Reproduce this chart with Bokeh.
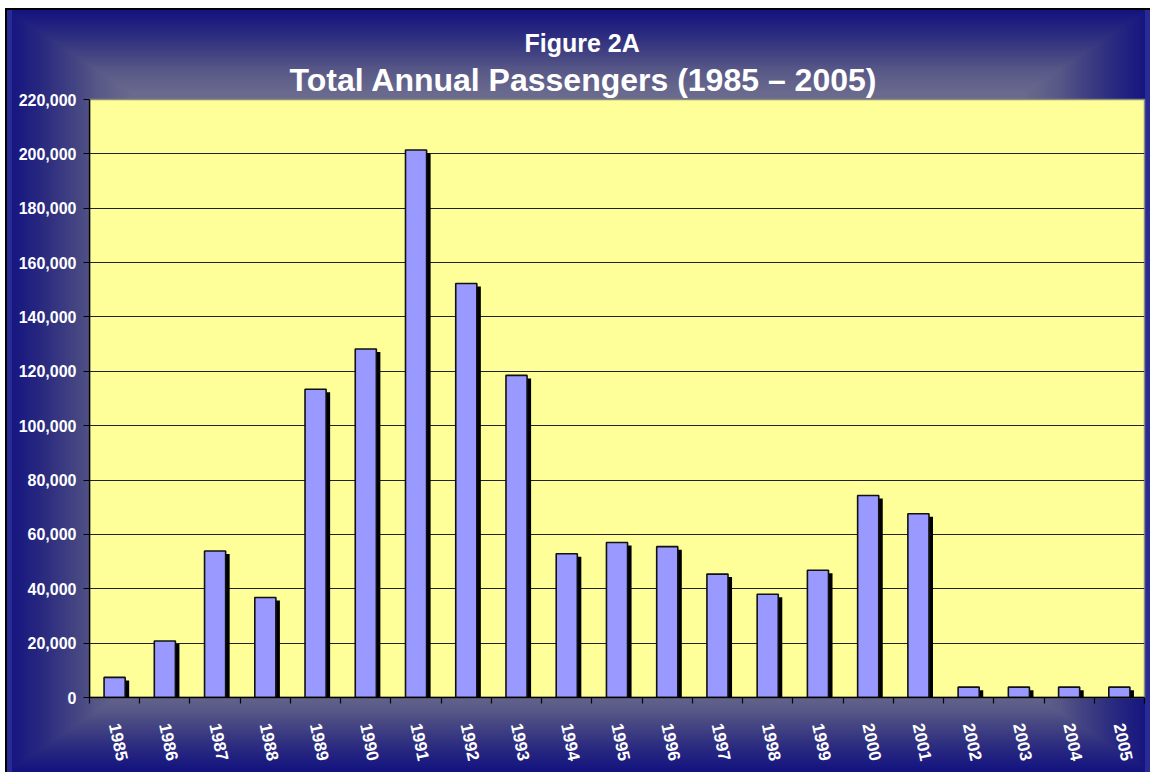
import numpy as np
import zlib, struct, base64
from bokeh.plotting import figure
from bokeh.models import FixedTicker, NumeralTickFormatter, Title, ColumnDataSource
from bokeh.transform import dodge
from bokeh.embed import file_html
from bokeh.resources import INLINE

# ---------------- data ----------------
years = [1985, 1986, 1987, 1988, 1989, 1990, 1991, 1992, 1993, 1994, 1995,
         1996, 1997, 1998, 1999, 2000, 2001, 2002, 2003, 2004, 2005]
passengers = [7400, 20800, 53900, 36800, 113400, 128200, 201400, 152300, 118500,
              52900, 57000, 55500, 45400, 38000, 46800, 74300, 67600,
              3800, 3800, 3800, 3800]
y_ticks = [0, 20000, 40000, 60000, 80000, 100000, 120000, 140000,
           160000, 180000, 200000, 220000]
title_top = "Figure 2A"
title_main = "Total Annual Passengers (1985 \u2013 2005)"

# ---------------- layout ----------------
W, H = 1153, 772
FONT = "Liberation Sans"

# background gradient (Excel style "from center" fill), rendered as PNG
def make_background(w, h):
    X = np.arange(w)[None, :] + 0.0
    Y = np.arange(h)[:, None] + 0.0
    t = np.maximum(np.abs(X - 577.5) / 572.5, np.abs(Y - 390.0) / 382.0)
    t = np.clip(t, 0, 1)
    stops_t = [0.0, 0.78, 0.84, 0.87, 0.94, 1.0]
    stops_c = [(118, 118, 150), (106, 106, 142), (88, 88, 136),
               (72, 72, 132), (40, 40, 128), (18, 18, 128)]
    img = np.zeros((h, w, 3), dtype=np.float64)
    for k in range(3):
        img[..., k] = np.interp(t, stops_t, [c[k] for c in stops_c])
    # edge stripes / black frame
    img[:, 7:12, :] = (42, 42, 150)
    img[:, 1145:1150, :] = (42, 42, 150)
    img[:, 5:7, :] = 0
    img[8:10, :, :] = 0
    img[:8, :, :] = 255
    img[:, :5, :] = 255
    img[:, 1150:, :] = 255
    arr = np.clip(img, 0, 255).astype(np.uint8)
    # PNG with "Up" filter
    a16 = arr.astype(np.int16)
    up = np.empty_like(a16)
    up[0] = a16[0]
    up[1:] = (a16[1:] - a16[:-1]) % 256
    up = up.astype(np.uint8)
    raw = b"".join(b"\x02" + up[r].tobytes() for r in range(h))

    def chunk(tag, data):
        c = struct.pack(">I", len(data)) + tag + data
        return c + struct.pack(">I", zlib.crc32(tag + data) & 0xffffffff)

    png = (b"\x89PNG\r\n\x1a\n"
           + chunk(b"IHDR", struct.pack(">IIBBBBB", w, h, 8, 2, 0, 0, 0))
           + chunk(b"IDAT", zlib.compress(raw, 9))
           + chunk(b"IEND", b""))
    return base64.b64encode(png).decode("ascii")

bg = make_background(W, H)

p = figure(width=W, height=H, output_backend="svg", toolbar_location=None,
           x_range=(1984.5, 2005.5), y_range=(0, 220000),
           min_border_left=89, min_border_right=9, min_border_top=99,
           min_border_bottom=75)
p.styles = {"background-image": f"url(data:image/png;base64,{bg})",
            "background-size": "100% 100%"}
p.border_fill_color = None
p.background_fill_color = "#FFFF99"
p.outline_line_color = "#8c8c7a"
p.outline_line_width = 1.5

src = ColumnDataSource(dict(x=years, top=passengers,
                            shadow_top=[v - 1100 for v in passengers]))

# shadows
p.vbar(x=dodge("x", 0.08, range=p.x_range), top="shadow_top", bottom=0,
       width=0.42, source=src, fill_color="black", line_color=None)
# bars
p.vbar(x="x", top="top", bottom=0, width=0.42, source=src,
       fill_color="#9999FF", line_color="#111111", line_width=1.6)

# grid
p.xgrid.visible = False
p.ygrid.ticker = FixedTicker(ticks=y_ticks)
p.ygrid.grid_line_color = "#222222"
p.ygrid.grid_line_width = 1

# y axis
yax = p.yaxis[0]
yax.ticker = FixedTicker(ticks=y_ticks)
yax.formatter = NumeralTickFormatter(format="0,0")
yax.major_tick_out = 6
yax.major_tick_in = 0
yax.minor_tick_line_color = None
yax.axis_line_color = "black"
yax.axis_line_width = 1.5
yax.major_tick_line_color = "black"
yax.major_label_standoff = 7
yax.major_label_text_color = "white"
yax.major_label_text_font = FONT
yax.major_label_text_font_style = "bold"
yax.major_label_text_font_size = "16px"

# x axis
xax = p.xaxis[0]
xax.ticker = FixedTicker(ticks=years,
                         minor_ticks=[y - 0.5 for y in years] + [years[-1] + 0.5])
xax.major_tick_out = 0
xax.major_tick_in = 0
xax.minor_tick_out = 6
xax.minor_tick_in = 0
xax.minor_tick_line_color = "black"
xax.minor_tick_line_width = 1.2
xax.axis_line_color = "black"
xax.axis_line_width = 1.5
xax.major_label_orientation = -1.36
xax.major_label_standoff = 20
xax.major_label_text_color = "white"
xax.major_label_text_font = FONT
xax.major_label_text_font_style = "bold"
xax.major_label_text_font_size = "17px"

# titles
t_main = Title(text=title_main, align="left", offset=200, standoff=4,
               text_color="white", text_font=FONT, text_font_style="bold",
               text_font_size="32px")
t_top = Title(text=title_top, align="left", offset=435, standoff=2,
              text_color="white", text_font=FONT, text_font_style="bold",
              text_font_size="25px")
p.add_layout(t_main, "above")
p.add_layout(t_top, "above")

open("out.html", "w").write(file_html(p, INLINE))
